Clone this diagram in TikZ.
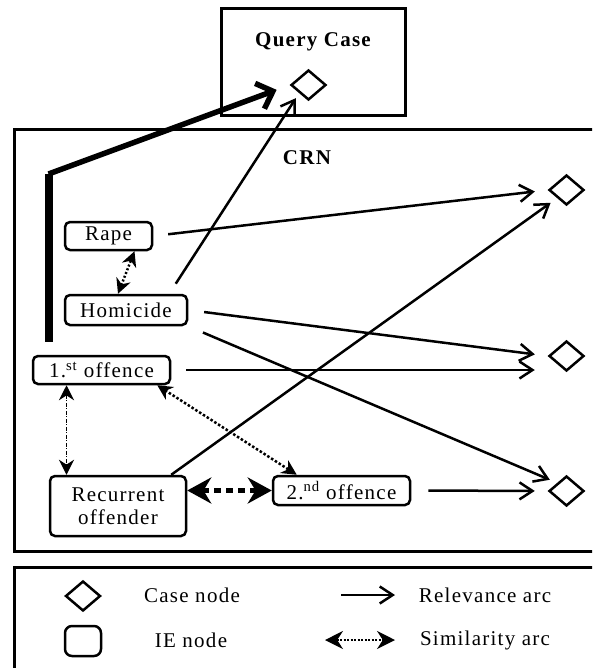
\documentclass[tikz,border=0pt]{standalone}
\usepackage{fontspec}
\setmainfont{Liberation Serif}[LetterSpace=6]
\usetikzlibrary{arrows.meta,shapes.geometric,positioning}

\begin{document}
\begin{tikzpicture}[x=1pt,y=-1pt,
    every node/.style={font=\fontsize{21}{23}\selectfont},
    title/.style={font=\fontsize{21}{23}\selectfont\bfseries},
    frame/.style={line width=3pt},
    ie/.style={draw,rounded corners=5pt,line width=2.5pt,inner sep=0pt,minimum height=28pt,align=center},
    case/.style={draw,diamond,line width=2.5pt,inner sep=0pt,minimum width=35pt,minimum height=30pt},
    rel/.style={line width=2.5pt,-{Straight Barb[length=13pt,width=17pt]}},
    sim/.style={{Stealth[length=15pt,width=15pt]}-{Stealth[length=15pt,width=15pt]}}]

    \path[use as bounding box,clip] (0,0) rectangle (592,668);

    % frames
    \draw[frame] (221,9) rectangle (405,116); % query
    \draw[frame] (14,130) rectangle (610,551); % crn
    \draw[frame] (14,567) rectangle (610,690); % legend
    \node[title] (qtitle) at (313,42) {Query Case};
    \node[title] (crn) at (307,158) {CRN};

    % case nodes
    \node[case] (q) at (308.5,85) {};
    \node[case] (d1) at (566.5,190) {};
    \node[case] (d2) at (566.5,356) {};
    \node[case] (d3) at (566.5,491) {};

    % ie nodes
    \node[ie,minimum width=87pt] (rape) at (108.5,236) {Rape};
    \node[ie,minimum width=122pt,minimum height=30pt] (homicide) at (126,310) {Homicide};
    \node[ie,minimum width=137pt] (first) at (101.5,370) {1.\textsuperscript{st} offence};
    \node[ie,minimum width=136pt,minimum height=60pt] (recurrent) at (118,506) {Recurrent\\offender};
    \node[ie,minimum width=137pt,minimum height=29pt] (second) at (341.5,490.5) {2.\textsuperscript{nd} offence};

    % thick arc to the query
    \coordinate (bend) at (48.5,174);
    \draw[line width=8pt,shorten >=13pt] (bend) -- (bend |- first.north);
    \draw[line width=5.5pt,shorten >=14pt,-{Straight Barb[length=14pt,width=27pt]}] (bend) -- (q.west);

    % relevance arcs
    \draw[rel,shorten <=15pt,shorten >=13pt] (rape.east) -- (d1.west);
    \draw[rel,shorten <=12pt,shorten >=6pt] ([xshift=-19pt]homicide.north east) -- (q.south west);
    \draw[rel,shorten <=16pt,shorten >=13pt] (homicide.east) -- (d2.west);
    \draw[rel,shorten <=16pt,shorten >=8pt] (homicide.south east) -- (d3.north west);
    \draw[rel,shorten <=15pt,shorten >=13pt] (first.east) -- (first.east -| d2.west);
    \draw[rel,shorten >=8pt] ([xshift=-16pt]recurrent.north east) -- (d1.south west);
    \draw[rel,shorten <=17pt,shorten >=13pt] (second.east) -- (d3.west);

    % similarity arcs
    \draw[sim,line width=2.5pt,dash pattern=on 2pt off 2pt] ([xshift=-8pt]homicide.north) -- ([xshift=26pt]rape.south);
    \draw[sim,line width=1.2pt,dash pattern=on 4pt off 1.5pt on 1pt off 1.5pt] ([xshift=-35pt]first.south) -- ([xshift=-35pt]first.south |- recurrent.north);
    \draw[sim,line width=2.5pt,dash pattern=on 2.5pt off 2pt] ([xshift=-14pt]first.south east) -- ([xshift=25pt]second.north west);
    \draw[line width=5pt,dash pattern=on 7pt off 5pt,{Stealth[length=24pt,width=26pt]}-{Stealth[length=24pt,width=26pt]}] (second.west -| recurrent.east) -- (second.west);

    % legend
    \node[case] (lcase) at (83,596) {};
    \node[ie,minimum width=36pt,minimum height=30pt,rounded corners=7pt] (lie) at (83,641) {};
    \node (lcasetext) at (192,595) {Case node};
    \node (lietext) at (191,640) {IE node};
    \coordinate (rel1) at (341,595);
    \coordinate (rel2) at (395,595);
    \coordinate (sim1) at (325,640);
    \coordinate (sim2) at (395,640);
    \draw[rel] (rel1) -- (rel2);
    \draw[line width=1.5pt,dash pattern=on 2pt off 1.5pt,{Stealth[length=18pt,width=18pt]}-{Stealth[length=18pt,width=18pt]}] (sim1) -- (sim2);
    \node (reltext) at (485,595) {Relevance arc};
    \node (simtext) at (485,640) {Similarity arc};

\end{tikzpicture}
\end{document}
